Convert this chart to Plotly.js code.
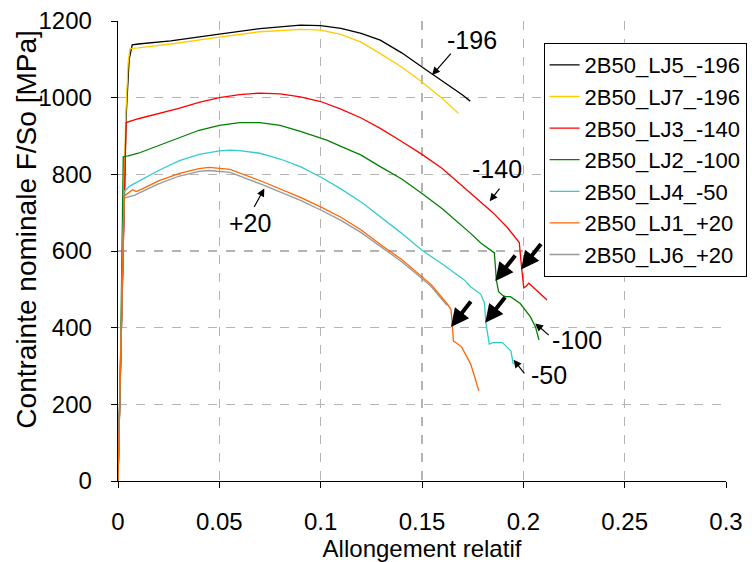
<!DOCTYPE html>
<html><head><meta charset="utf-8">
<script src="https://cdn.plot.ly/plotly-3.0.1.min.js"></script>
<style>html,body{margin:0;padding:0;background:#fff}#chart{width:752px;height:562px}</style>
</head><body><div id="chart"></div>
<script>
// LJ5 -196 (black)
const lj5_x = [0,0.0012,0.0025,0.004,0.0055,0.007,0.01,0.026,0.05,0.07,0.09,0.1,0.11,0.12,0.1294,0.14,0.15,0.155,0.16,0.17,0.1738];
const lj5_y = [0,300,650,950,1100,1138,1140,1148,1166,1180,1189,1188,1181,1168,1150,1117,1080,1062,1045,1007,991];
// LJ7 -196 (yellow)
const lj7_x = [0,0.0012,0.0025,0.0038,0.005,0.0059,0.01,0.026,0.05,0.07,0.09,0.1,0.11,0.12,0.1294,0.14,0.15,0.16,0.168];
const lj7_y = [0,300,650,950,1090,1128,1130,1140,1158,1172,1178,1176,1165,1145,1115,1080,1041,998,959];
// LJ3 -140 (red)
const lj3_x = [0,0.0012,0.0025,0.004,0.01,0.02,0.03,0.04,0.05,0.06,0.07,0.08,0.09,0.1,0.11,0.12,0.1294,0.139,0.15,0.16,0.174,0.185,0.192,0.198,0.1989,0.2002,0.2014,0.2027,0.205,0.208,0.2117];
const lj3_y = [0,300,650,935,945,958,972,988,1000,1008,1012,1010,1002,990,970,947,920,889,852,815,750,700,662,622,570,504,508,516,505,490,472];
// LJ2 -100 (green)
const lj2_x = [0,0.0012,0.0026,0.005,0.01,0.02,0.03,0.04,0.05,0.06,0.07,0.08,0.09,0.103,0.11,0.12,0.1294,0.14,0.15,0.16,0.174,0.179,0.1857,0.1867,0.1878,0.1895,0.1911,0.1936,0.1985,0.2035,0.206,0.2077];
const lj2_y = [0,300,846,848,855,875,897,915,928,935,935,928,912,889,873,850,820,788,750,710,646,621,595,524,494,485,481,481,463,428,402,368];
// LJ4 -50 (cyan)
const lj4_x = [0,0.0012,0.003,0.006,0.01,0.02,0.03,0.04,0.05,0.0553,0.06,0.07,0.08,0.09,0.1,0.11,0.121,0.13,0.14,0.15,0.16,0.171,0.174,0.179,0.1808,0.1815,0.1832,0.1849,0.1897,0.1939,0.195];
const lj4_y = [0,300,755,770,782,810,835,852,861,863,862,855,840,820,793,762,724,688,646,602,566,524,507,487,465,413,357,361,361,339,305];
// LJ1 +20 (orange)
const lj1_x = [0,0.0012,0.003,0.0072,0.009,0.012,0.02,0.03,0.04,0.045,0.0553,0.0718,0.08,0.09,0.1,0.11,0.12,0.131,0.14,0.15,0.1544,0.1623,0.1643,0.165,0.1655,0.167,0.1695,0.172,0.174,0.176,0.178];
const lj1_y = [0,300,743,760,755,762,783,802,815,818,813,780,762,740,715,688,655,611,578,533,513,463,448,405,365,360,350,325,305,272,235];
// LJ6 +20 (gray)
const lj6_x = [0,0.0012,0.003,0.008,0.02,0.03,0.04,0.045,0.0553,0.0718,0.08,0.09,0.1,0.11,0.12,0.131,0.14,0.15,0.1544,0.1623];
const lj6_y = [0,300,738,745,775,795,808,810,805,772,754,732,707,680,648,605,572,528,508,458];

const names = ['2B50_LJ5_-196','2B50_LJ7_-196','2B50_LJ3_-140','2B50_LJ2_-100','2B50_LJ4_-50','2B50_LJ1_+20','2B50_LJ6_+20'];
const colors = ['#000000','#FFCC00','#FF0000','#008000','#33CCCC','#FF6600','#999999'];
const xs = [lj5_x,lj7_x,lj3_x,lj2_x,lj4_x,lj1_x,lj6_x];
const ys = [lj5_y,lj7_y,lj3_y,lj2_y,lj4_y,lj1_y,lj6_y];

const xTicks = [0,0.05,0.1,0.15,0.2,0.25,0.3];
const yTicks = [0,200,400,600,800,1000,1200];
const xTitle = 'Allongement relatif';
const yTitle = 'Contrainte nominale F/So [MPa]';

// thick arrows pointing at the load drops (head position in data units)
const dropX = [0.1643,0.1812,0.1862,0.1989];
const dropY = [402,413,522,552];
// temperature labels and their thin arrows
const labText = ['-196','-140','+20','-100','-50'];
const labX = [0.1747,0.187,0.0652,0.2265,0.2125];
const labY = [1150,815,673,368,276];
const arrX = [0.155,0.1834,0.0722,0.2059,0.1952];
const arrY = [1059,730,763,411,316];
const arrAx = [20,11,-11,15,12];
const arrAy = [-23,-14,20,13,15];

const FONT = 'Arial, "Liberation Sans", sans-serif';
const traces = names.map((n,i)=>({
  x: xs[i], y: ys[i], name: n, type:'scatter', mode:'lines', legendrank: i+1,
  line:{color:colors[i], width:1.3}
}));
// draw gray under orange
const order = [0,1,2,3,4,6,5];
const data = order.map(i=>traces[i]);

const annotations = [];
dropX.forEach((x,i)=>annotations.push({x:x,y:dropY[i],xref:'x',yref:'y',text:'',showarrow:true,
  ax:21,ay:-27,arrowhead:2,arrowsize:0.9,arrowwidth:4,arrowcolor:'#000',standoff:0}));
labText.forEach((t,i)=>{
  annotations.push({x:labX[i],y:labY[i],xref:'x',yref:'y',text:t,showarrow:false,
    font:{family:FONT,size:25,color:'#000'}});
  annotations.push({x:arrX[i],y:arrY[i],xref:'x',yref:'y',text:'',showarrow:true,
    ax:arrAx[i],ay:arrAy[i],arrowhead:2,arrowsize:1.3,arrowwidth:1.2,arrowcolor:'#000',standoff:0});
});
// y-axis title (placed as in the original, slightly above the axis centre)
annotations.push({xref:'paper',yref:'paper',x:-0.15,y:0.546,xanchor:'center',yanchor:'middle',
  text:yTitle,textangle:-90,showarrow:false,font:{family:FONT,size:28,color:'#000'}});

const layout = {
  width:752, height:562,
  margin:{l:118,r:26,t:21,b:81,autoexpand:false},
  paper_bgcolor:'#fff', plot_bgcolor:'#fff',
  font:{family:FONT,size:22,color:'#000'},
  showlegend:true,
  legend:{traceorder:'normal', x:0.70, y:0.952, xanchor:'left', yanchor:'top',
    bgcolor:'#fff', bordercolor:'#000', borderwidth:1, font:{family:FONT,size:22,color:'#000'},
    tracegroupgap:0, itemwidth:30},
  xaxis:{range:[0,0.3], tickvals:xTicks, ticktext:xTicks.map(String), showgrid:true, gridcolor:'#b4b4b4', griddash:'dash', gridwidth:1.3,
    zeroline:false, showline:true, linecolor:'#000', linewidth:1.3, ticks:'outside', ticklen:6, tickcolor:'#000',
    ticklabelstandoff:13, tickfont:{family:FONT,size:24},
    title:{text:xTitle, font:{family:FONT,size:24}, standoff:8}},
  yaxis:{range:[0,1200], tickvals:yTicks, ticktext:yTicks.map(String), showgrid:true, gridcolor:'#b4b4b4', griddash:'dash', gridwidth:1.3,
    zeroline:false, showline:true, linecolor:'#000', linewidth:1.3, ticks:'outside', ticklen:6, tickcolor:'#000',
    ticklabelstandoff:14, tickfont:{family:FONT,size:24}},
  annotations: annotations
};
Plotly.newPlot('chart', data, layout, {displayModeBar:false, staticPlot:true});
</script>
</body></html>
